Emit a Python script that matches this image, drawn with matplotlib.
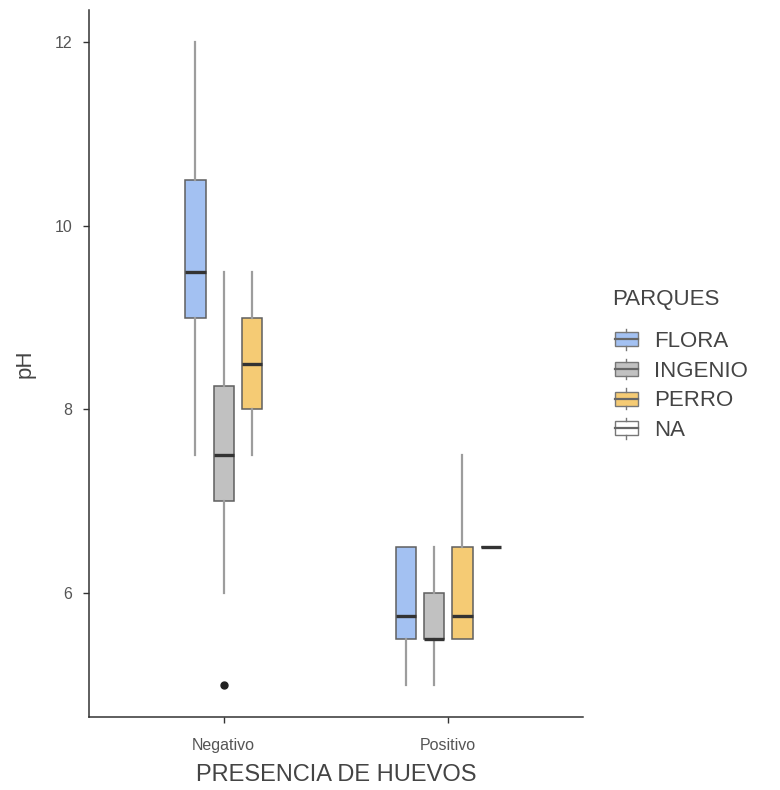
import matplotlib
matplotlib.use("Agg")
import matplotlib.pyplot as plt
from matplotlib.patches import Rectangle
from matplotlib.lines import Line2D
from matplotlib.legend_handler import HandlerBase

plt.rcParams['font.family'] = ['Liberation Sans', 'DejaVu Sans']

# ---- data ----
huevos = ["Negativo", "Positivo"]
parques = ["FLORA", "INGENIO", "PERRO", "NA"]
colores = ["#A3C1F2", "#C1C1C1", "#F5CB74", "#FFFFFF"]

neg_parque = ["FLORA", "INGENIO", "PERRO"]
neg_whislo = [7.5, 6.0, 7.5]
neg_q1     = [9.0, 7.0, 8.0]
neg_med    = [9.5, 7.5, 8.5]
neg_q3     = [10.5, 8.25, 9.0]
neg_whishi = [12.0, 9.5, 9.5]
neg_fliers = [[], [5.0], []]

pos_parque = ["FLORA", "INGENIO", "PERRO", "NA"]
pos_whislo = [5.0, 5.0, 5.5, 6.5]
pos_q1     = [5.5, 5.5, 5.5, 6.5]
pos_med    = [5.75, 5.5, 5.75, 6.5]
pos_q3     = [6.5, 6.0, 6.5, 6.5]
pos_whishi = [6.5, 6.5, 7.5, 6.5]
pos_fliers = [[], [], [], []]

y_ticks = [6, 8, 10, 12]

# ---- figure ----
fig = plt.figure(figsize=(7.8, 7.9), dpi=100)
ax = fig.add_axes([89/780, 1 - 717/790, (583-89)/780, (717-10)/790])

dodge = 0.126
bw = 0.09
edge = "#5f5f5f"
whisk = "#9d9d9d"
medc = "#333333"

groups = [
    (neg_parque, neg_whislo, neg_q1, neg_med, neg_q3, neg_whishi, neg_fliers),
    (pos_parque, pos_whislo, pos_q1, pos_med, pos_q3, pos_whishi, pos_fliers),
]
for gi, (pq, wl, q1, md, q3, wh, fl) in enumerate(groups):
    n = len(pq)
    for i in range(n):
        pos = gi + 1 + (i - (n - 1) / 2) * dodge
        col = colores[parques.index(pq[i])]
        st = [dict(whislo=wl[i], q1=q1[i], med=md[i], q3=q3[i], whishi=wh[i], fliers=fl[i])]
        ax.bxp(st, positions=[pos], widths=bw, patch_artist=True, showcaps=False,
               boxprops=dict(facecolor=col, edgecolor=edge, linewidth=1.1),
               whiskerprops=dict(color=whisk, linewidth=1.6),
               medianprops=dict(color=medc, linewidth=2.4, solid_capstyle='butt'),
               flierprops=dict(marker='o', markerfacecolor='#222222', markeredgecolor='#222222',
                               markersize=5),
               zorder=3)

ax.set_xlim(0.4, 2.6)
ax.set_ylim(4.65, 12.35)
ax.set_xticks([1, 2])
ax.set_xticklabels(huevos)
ax.set_yticks(y_ticks)
ax.set_yticklabels([str(t) for t in y_ticks])
for s in ["top", "right"]:
    ax.spines[s].set_visible(False)
for s in ["left", "bottom"]:
    ax.spines[s].set_color("#333333")
    ax.spines[s].set_linewidth(1.1)
ax.tick_params(axis='both', colors="#333333", length=4, width=1.0, labelsize=11.5,
               labelcolor="#555555")
ax.tick_params(axis='x', pad=11)
ax.tick_params(axis='y', pad=8)
ax.set_xlabel("PRESENCIA DE HUEVOS", fontsize=17, color="#444444", labelpad=8)
ax.set_ylabel("pH", fontsize=16, color="#444444", labelpad=14)


class BoxHandler(HandlerBase):
    def __init__(self, fc):
        super().__init__()
        self.fc = fc

    def create_artists(self, legend, orig_handle, xdescent, ydescent, width, height,
                       fontsize, trans):
        w = 17
        h = 15
        x0 = -xdescent + (width - w) / 2
        y0 = -ydescent + (height - h) / 2
        ec = "#777777"
        r = Rectangle((x0, y0 + 2.5), w, h - 5, facecolor=self.fc, edgecolor=ec,
                      linewidth=1.0, transform=trans)
        lm = Line2D([x0, x0 + w], [y0 + h / 2] * 2, color="#666666", linewidth=1.6,
                    transform=trans)
        lt = Line2D([x0 + w / 2] * 2, [y0 + h - 2.5, y0 + h], color=ec, linewidth=1.0,
                    transform=trans)
        lb = Line2D([x0 + w / 2] * 2, [y0, y0 + 2.5], color=ec, linewidth=1.0,
                    transform=trans)
        return [r, lm, lt, lb]


handles = [Rectangle((0, 0), 1, 1, facecolor=c) for c in colores]
hmap = {h: BoxHandler(c) for h, c in zip(handles, colores)}
leg = fig.legend(handles, parques, title="PARQUES", loc="upper left",
                 bbox_to_anchor=(612/780, 1 - 289/790), frameon=False,
                 handler_map=hmap, fontsize=16, title_fontsize=16,
                 handlelength=1.3, handleheight=1.0, handletextpad=0.6,
                 labelspacing=0.32, borderpad=0, borderaxespad=0)
leg._legend_box.align = "left"
leg._legend_box.sep = 14
for t in leg.get_texts():
    t.set_color("#444444")
leg.get_title().set_color("#444444")

fig.savefig("out.png", dpi=100, facecolor="white")
